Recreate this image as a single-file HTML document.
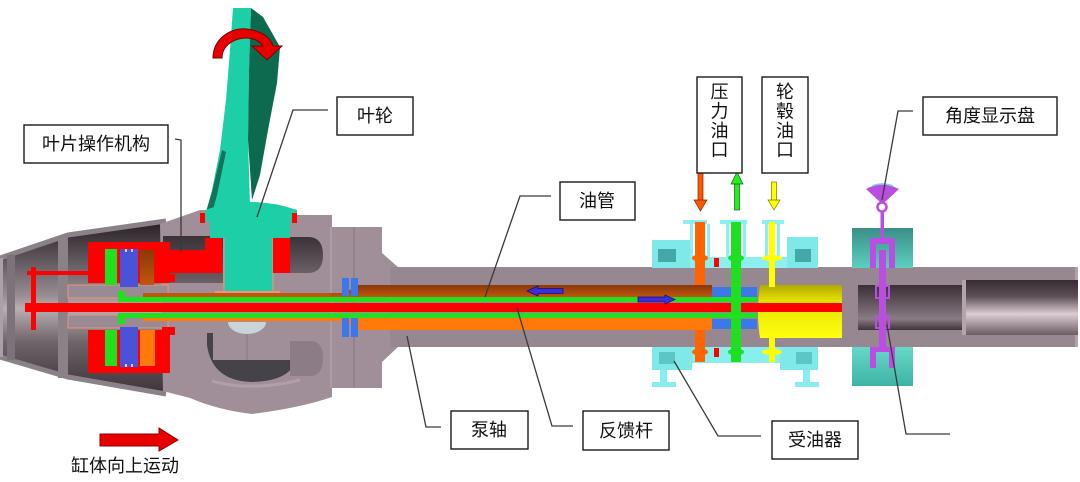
<!DOCTYPE html>
<html><head><meta charset="utf-8">
<style>
html,body{margin:0;padding:0;background:#fff;}
svg{display:block;}
text{font-family:"Liberation Sans","Noto Sans CJK SC",sans-serif;font-size:18px;fill:#111;}
</style></head><body>
<svg width="1080" height="482" viewBox="0 0 1080 482" xmlns="http://www.w3.org/2000/svg">
<defs>
<linearGradient id="cone" gradientUnits="userSpaceOnUse" x1="0" y1="225" x2="0" y2="392">
 <stop offset="0" stop-color="#2c2428"/>
 <stop offset="0.42" stop-color="#968c92"/>
 <stop offset="0.5" stop-color="#b8aeb4"/>
 <stop offset="0.7" stop-color="#6e646a"/>
 <stop offset="1" stop-color="#3e363a"/>
</linearGradient>
<linearGradient id="cav" x1="0" y1="0" x2="0" y2="1">
 <stop offset="0" stop-color="#3a3237"/>
 <stop offset="1" stop-color="#6a6066"/>
</linearGradient>
<linearGradient id="bore1" x1="0" y1="0" x2="0" y2="1">
 <stop offset="0" stop-color="#3a3036"/>
 <stop offset="0.5" stop-color="#6e6068"/>
 <stop offset="0.75" stop-color="#8a7c84"/>
 <stop offset="1" stop-color="#3e3439"/>
</linearGradient>
<linearGradient id="bore2" x1="0" y1="0" x2="0" y2="1">
 <stop offset="0" stop-color="#362c31"/>
 <stop offset="0.3" stop-color="#5e5058"/>
 <stop offset="0.62" stop-color="#dccdd5"/>
 <stop offset="0.8" stop-color="#a6969e"/>
 <stop offset="1" stop-color="#6a5b63"/>
</linearGradient>
<linearGradient id="tealT" x1="0" y1="0" x2="0" y2="1">
 <stop offset="0" stop-color="#3a8f87"/>
 <stop offset="1" stop-color="#5ccfc0"/>
</linearGradient>
<linearGradient id="tealB" x1="0" y1="0" x2="0" y2="1">
 <stop offset="0" stop-color="#66d8c8"/>
 <stop offset="1" stop-color="#3fb3a6"/>
</linearGradient>
<linearGradient id="yel" x1="0" y1="0" x2="0" y2="1">
 <stop offset="0" stop-color="#b0a800"/>
 <stop offset="0.3" stop-color="#e6e200"/>
 <stop offset="1" stop-color="#ffff10"/>
</linearGradient>
<linearGradient id="brown" x1="0" y1="0" x2="0" y2="1">
 <stop offset="0" stop-color="#8a3808"/>
 <stop offset="1" stop-color="#c0560e"/>
</linearGradient>
</defs>

<!-- nose cone -->
<polygon points="0,258 68,235 163,222 163,393 68,377 0,357" fill="url(#cone)"/>
<polyline points="0,258 68,235 166,221" fill="none" stroke="#8a8288" stroke-width="5"/>
<polyline points="0,357 68,377 166,394" fill="none" stroke="#8a8288" stroke-width="5"/>
<rect x="0" y="258" width="3" height="99" fill="#a9a1a7"/>
<rect x="7" y="255" width="8" height="105" fill="#7b7379"/>
<rect x="58" y="236" width="10" height="142" fill="#8a8288"/>

<!-- hub body -->
<path d="M160,224 L200,210 L297,210 L297,215 L332,215 L332,227 L382,227 L382,253 L398,267 L398,347 L382,362 L382,388 L332,388 L332,397 Q300,408 252,414 Q218,410 190,398 L163,391 Z" fill="#a08f99"/>
<!-- shaft -->
<rect x="390" y="267" width="688" height="80" fill="#978791"/>
<rect x="1075" y="267" width="3" height="80" fill="#b2a2ac"/>
<line x1="331" y1="227" x2="331" y2="388" stroke="#b8a8b2" stroke-width="1"/>
<line x1="354" y1="227" x2="354" y2="388" stroke="#85757f" stroke-width="1"/>

<!-- hub cavities -->
<rect x="163" y="236" width="60" height="47" fill="url(#cav)"/>
<path d="M288,237 L308,237 Q323,237 323,255 Q323,273 308,273 L288,273 Z" fill="url(#cav)"/>
<path d="M207,333 L213,333 L213,360 L296,360 Q290,381 252,382 Q212,381 207,345 Z" fill="#45424a"/>
<path d="M290,341 L310,341 Q323,341 323,358 Q323,376 310,376 L290,376 Z" fill="#8c7c86"/>
<path d="M212,381 Q250,392 300,380" fill="none" stroke="#b09fa9" stroke-width="3"/>
<line x1="247" y1="334" x2="247" y2="360" stroke="#8a7a84" stroke-width="1"/>
<path d="M228,322 A19,12 0 0 0 266,322 Z" fill="#c9d3da"/>

<!-- mauve rod bands in servo -->
<rect x="68" y="285" width="100" height="13" fill="#9a8a94" stroke="#e9967a" stroke-width="1"/>
<rect x="68" y="315" width="100" height="13" fill="#9a8a94" stroke="#e9967a" stroke-width="1"/>

<!-- servomotor red blocks -->
<rect x="88" y="242" width="82" height="41" fill="#ff0000"/>
<rect x="160" y="274" width="15" height="8" fill="#ff0000"/>
<rect x="165" y="250" width="45" height="23" fill="#ff0000"/>
<rect x="88" y="330" width="82" height="43" fill="#ff0000"/>
<rect x="162" y="327" width="13" height="8" fill="#ff0000"/>
<rect x="105" y="249" width="12" height="36" fill="#20e020"/>
<rect x="120" y="249" width="18" height="38" fill="#4a52d8"/>
<rect x="140" y="250" width="14" height="35" fill="url(#brown)"/>
<rect x="105" y="330" width="12" height="36" fill="#20e020"/>
<rect x="120" y="327" width="18" height="40" fill="#4a52d8"/>
<rect x="140" y="330" width="15" height="36" fill="#ff7a0a"/>
<rect x="125" y="249" width="2" height="3" fill="#d8c8e8"/><rect x="131" y="249" width="2" height="3" fill="#d8c8e8"/>
<rect x="125" y="364" width="2" height="3" fill="#d8c8e8"/><rect x="131" y="364" width="2" height="3" fill="#d8c8e8"/>

<!-- blade -->
<polygon points="233,8 251,8 249,70 248,140 250,205 228,208 206,212 212,190 220,150 226,100 230,50" fill="#1ccfa6"/>
<polygon points="251,8 263,17 280,47 277,83 268,130 260,175 252,200 248,140 249,70" fill="#0d6a4f"/>
<polygon points="206,212 212,192 222,150 226,152 217,195 213,210" fill="#0f7458"/>
<!-- cap and stem -->
<path d="M205,210 Q250,194 297,210 L297,222 L290,222 L290,238 L273,238 L273,292 L224,292 L224,238 L210,238 L210,222 L205,222 Z" fill="#1ccfa6"/>
<path d="M224,238 L224,292 L273,292 L273,238" fill="none" stroke="#e9967a" stroke-width="1.2"/>
<rect x="200" y="213" width="5" height="10" fill="#ff0000"/>
<rect x="292" y="213" width="5" height="10" fill="#ff0000"/>
<rect x="205" y="238" width="17" height="35" fill="#ff0000"/>
<rect x="273" y="238" width="17" height="35" fill="#ff0000"/>
<rect x="215" y="291" width="65" height="2" fill="#e9967a"/>

<!-- rotation arrow -->
<path d="M213,58 C213,38 232,27 247,29 C262,31 271,38 273,46 L282,46 L267,60 L252,46 L263,46 C260,41 253,38 246,38 C235,38 222,45 222,58 Z" fill="#e80000" stroke="#7a0000" stroke-width="1"/>

<!-- oil bands in hub -->
<rect x="143" y="293" width="190" height="4" fill="#c0560e"/>
<rect x="143" y="318" width="190" height="3" fill="#ff7a0a"/>
<polygon points="330,293 345,293 358,285 712,285 712,297 330,297" fill="url(#brown)"/>
<polygon points="330,318 712,318 712,330 358,330 345,321 330,321" fill="#ff7a0a"/>
<!-- green tube -->
<rect x="118" y="297" width="639" height="5" fill="#20e020"/>
<rect x="118" y="313" width="639" height="5" fill="#20e020"/>
<rect x="118" y="291" width="7" height="11" fill="#20e020"/>
<rect x="118" y="313" width="7" height="11" fill="#20e020"/>
<!-- flange seals -->
<rect x="342" y="278" width="7" height="18" fill="#3d78ea"/>
<rect x="351" y="278" width="7" height="18" fill="#3d78ea"/>
<rect x="342" y="318" width="7" height="19" fill="#3d78ea"/>
<rect x="351" y="318" width="7" height="19" fill="#3d78ea"/>

<!-- coupling housing (受油器) -->
<rect x="652" y="240" width="40" height="28" fill="#7fe8e8"/>
<rect x="658" y="249" width="18" height="13" fill="#45a8a8"/>
<rect x="787" y="237" width="31" height="31" fill="#7fe8e8"/>
<rect x="795" y="249" width="16" height="13" fill="#45a8a8"/>
<rect x="690" y="257" width="97" height="11" fill="#8cf0f0"/>
<rect x="683" y="220" width="24" height="4" fill="#8cf0f0"/>
<rect x="690" y="224" width="3" height="34" fill="#8cf0f0"/>
<rect x="707" y="224" width="3" height="34" fill="#8cf0f0"/>
<rect x="720" y="220" width="27" height="4" fill="#8cf0f0"/>
<rect x="726" y="224" width="3" height="34" fill="#8cf0f0"/>
<rect x="743" y="224" width="3" height="34" fill="#8cf0f0"/>
<rect x="762" y="220" width="22" height="4" fill="#8cf0f0"/>
<rect x="765" y="224" width="3" height="34" fill="#8cf0f0"/>
<rect x="777" y="224" width="3" height="34" fill="#8cf0f0"/>
<rect x="652" y="347" width="166" height="16" fill="#88eeee"/>
<rect x="652" y="347" width="40" height="23" fill="#7fe8e8"/>
<rect x="780" y="347" width="38" height="23" fill="#7fe8e8"/>
<rect x="659" y="352" width="16" height="12" fill="#5cc6c6"/>
<rect x="796" y="352" width="16" height="12" fill="#5cc6c6"/>
<rect x="660" y="370" width="7" height="12" fill="#88eeee"/>
<rect x="652" y="382" width="24" height="5" fill="#88eeee"/>
<rect x="803" y="370" width="7" height="12" fill="#88eeee"/>
<rect x="795" y="382" width="24" height="5" fill="#88eeee"/>

<!-- coupling internals -->
<rect x="712" y="287" width="45" height="10" fill="#3d78ea"/>
<rect x="712" y="319" width="45" height="10" fill="#3d78ea"/>
<path d="M760,285 L842,285 L842,338 L760,338 Q756,312 760,285 Z" fill="url(#yel)"/>
<!-- red rod -->
<rect x="25" y="303" width="865" height="9" fill="#ff0000"/>
<ellipse cx="890" cy="307.5" rx="4" ry="4.5" fill="#ff0000"/>
<rect x="31" y="267" width="5" height="63" fill="#ff0000"/>
<rect x="27" y="271" width="62" height="4" fill="#ff0000"/>

<!-- pipes -->
<rect x="695" y="222" width="10" height="63" fill="#ff6400"/>
<rect x="695" y="330" width="10" height="32" fill="#ff6400"/>
<ellipse cx="700" cy="258" rx="8" ry="3.5" fill="#ff6400"/>
<ellipse cx="700" cy="352" rx="8" ry="3.5" fill="#ff6400"/>
<rect x="731" y="222" width="10" height="140" fill="#1ee01e"/>
<ellipse cx="736" cy="258" rx="8" ry="3.5" fill="#1ee01e"/>
<ellipse cx="736" cy="352" rx="8" ry="3.5" fill="#1ee01e"/>
<rect x="769" y="222" width="6" height="65" fill="#ffff00"/>
<rect x="769" y="336" width="6" height="26" fill="#ffff00"/>
<ellipse cx="772" cy="258" rx="10" ry="3" fill="#ffff00"/>
<ellipse cx="772" cy="352" rx="10" ry="3" fill="#ffff00"/>
<rect x="714" y="258" width="5" height="9" fill="#ff0000"/>
<rect x="714" y="348" width="5" height="9" fill="#ff0000"/>

<!-- blue flow arrows -->
<polygon points="527,291 538,286 538,288.5 563,288.5 563,293.5 538,293.5 538,296" fill="#3a2ee0" stroke="#1a1060" stroke-width="0.8"/>
<polygon points="675,299.5 665,295 665,297 638,297 638,302 665,302 665,304" fill="#3a2ee0" stroke="#1a1060" stroke-width="0.8"/>

<!-- angle indicator -->
<rect x="842" y="268" width="16" height="79" fill="#978791"/>
<rect x="858" y="285" width="104" height="45" fill="url(#bore1)"/>
<rect x="962" y="280" width="116" height="55" fill="url(#bore2)"/>
<rect x="962" y="280" width="4" height="55" fill="#b4a4ac"/>
<rect x="852" y="228" width="61" height="40" fill="url(#tealT)"/>
<rect x="852" y="347" width="61" height="39" fill="url(#tealB)"/>
<path d="M866,189 Q882,180 899,189 L885,202 L880,202 Z" fill="#b94ee0"/>
<path d="M872,186 Q882,182 893,186" fill="none" stroke="#7ad0f0" stroke-width="1.5"/>
<circle cx="882" cy="207" r="4.5" fill="#fff" stroke="#b94ee0" stroke-width="2.5"/>
<rect x="880.5" y="211" width="3.5" height="29" fill="#b94ee0"/>
<path d="M870,238 L895,238 L895,268 L889,268 L889,244 L876,244 L876,268 L870,268 Z" fill="#b94ee0"/>
<rect x="879" y="250" width="7" height="102" fill="#b94ee0"/>
<rect x="876" y="286" width="13" height="12" fill="none" stroke="#b94ee0" stroke-width="2"/>
<rect x="876" y="316" width="13" height="12" fill="none" stroke="#b94ee0" stroke-width="2"/>
<path d="M870,347 L876,347 L876,368 L870,368 Z M889,347 L895,347 L895,368 L889,368 Z M876,347 L889,347 L889,352 L876,352 Z" fill="#b94ee0"/>

<!-- oil port arrows -->
<rect x="698" y="173" width="5" height="28" fill="#ff5500" stroke="#7a2a00" stroke-width="0.7"/>
<polygon points="694,200 707,200 700.5,211" fill="#ff5500" stroke="#7a2a00" stroke-width="0.7"/>
<rect x="734.5" y="184" width="5" height="26" fill="#22ee22" stroke="#116611" stroke-width="0.7"/>
<polygon points="731,184 743,184 737,172" fill="#22ee22" stroke="#116611" stroke-width="0.7"/>
<rect x="771.5" y="182" width="5" height="19" fill="#ffff00" stroke="#777700" stroke-width="0.7"/>
<polygon points="768,200 780,200 774,210" fill="#ffff00" stroke="#777700" stroke-width="0.7"/>

<!-- motion arrow -->
<polygon points="100,434 159,434 159,428 178,440 159,451 159,446 100,446" fill="#e80000" stroke="#900000" stroke-width="1"/>

<!-- leader lines -->
<g fill="none" stroke="#3a3a3a" stroke-width="1.3">
<polyline points="175,139 181,140 181,252"/>
<polyline points="328,110 293,110 257,217"/>
<polyline points="551,196 520,196 485,297"/>
<polyline points="913,111 898,111 882,200"/>
<polyline points="441,427 426,427 407,336"/>
<polyline points="573,426 552,426 517,308"/>
<polyline points="761,436 718,436 674,361"/>
<polyline points="950,434 906,434 887,325"/>
</g>

<!-- label boxes -->
<g fill="#fff" stroke="#1a1a1a" stroke-width="1.4">
<rect x="24" y="125" width="144" height="38"/>
<rect x="337" y="97" width="76" height="38"/>
<rect x="560" y="182" width="75" height="38"/>
<rect x="697" y="77" width="45" height="96"/>
<rect x="762" y="77" width="46" height="96"/>
<rect x="923" y="97" width="134" height="38"/>
<rect x="451" y="411" width="77" height="38"/>
<rect x="583" y="411" width="86" height="39"/>
<rect x="772" y="421" width="86" height="38"/>
</g>
<g text-anchor="middle" dominant-baseline="central">
<text x="96" y="144">叶片操作机构</text>
<text x="375" y="116">叶轮</text>
<text x="597" y="201">油管</text>
<text x="719.5" y="92">压</text>
<text x="719.5" y="111.5">力</text>
<text x="719.5" y="131">油</text>
<text x="719.5" y="150">口</text>
<text x="785" y="92">轮</text>
<text x="785" y="111.5">毂</text>
<text x="785" y="131">油</text>
<text x="785" y="150">口</text>
<text x="990" y="116">角度显示盘</text>
<text x="489" y="430">泵轴</text>
<text x="626" y="431">反馈杆</text>
<text x="815" y="440">受油器</text>
<text x="125" y="466">缸体向上运动</text>
</g>
</svg>
</body></html>
